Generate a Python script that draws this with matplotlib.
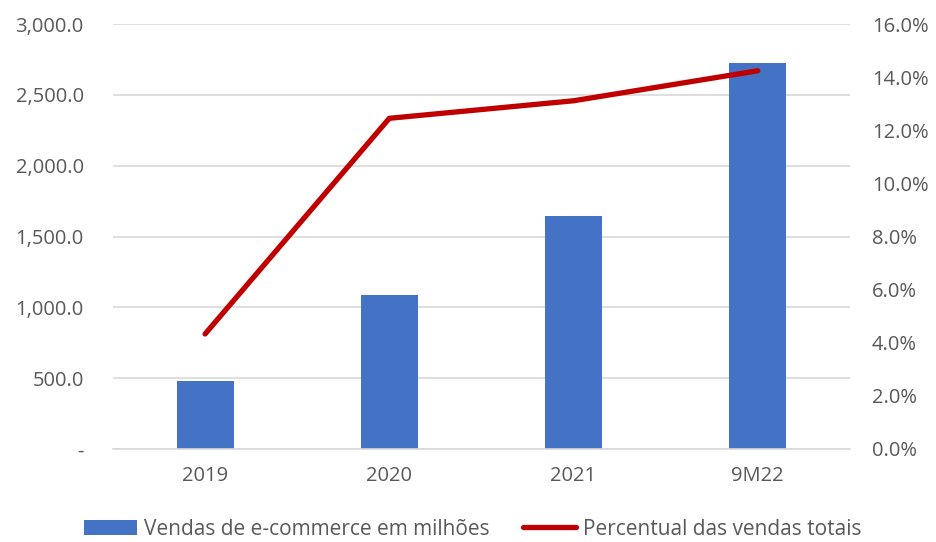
import matplotlib
matplotlib.use('Agg')
from matplotlib import pyplot as plt
from matplotlib.ticker import FuncFormatter
import numpy as np

# data
periods = ['2019', '2020', '2021', '9M22']
sales = [477, 1087, 1645, 2727]
share_pct = [4.33, 12.45, 13.11, 14.24]

plt.rcParams['font.family'] = ['Open Sans', 'DejaVu Sans']
text_color = '#595959'
grid_color = '#d9d9d9'

fig = plt.figure(figsize=(9.36, 5.42), dpi=100)
ax = fig.add_axes([0.1207, 0.1716, 0.7873, 0.7841])
ax2 = ax.twinx()

x = np.arange(len(periods))
ax.bar(x, sales, width=0.31, color='#4472c4', label='Vendas de e-commerce em milhões', zorder=2)
ax2.plot(x, share_pct, color='#c00000', lw=3.8, solid_capstyle='round',
         label='Percentual das vendas totais', zorder=3)

ax.set_xlim(-0.5, len(periods) - 0.5)
ax.set_ylim(0, 3000)
ax.set_yticks(np.arange(0, 3001, 500))
ax2.set_ylim(0, 16)
ax2.set_yticks(np.arange(0, 16.1, 2))

def left_fmt(v, pos):
    if v == 0:
        return '-'
    return f'{v:,.1f}'

ax.yaxis.set_major_formatter(FuncFormatter(left_fmt))
ax2.yaxis.set_major_formatter(FuncFormatter(lambda v, pos: f'{v:.1f}%'))

ax.set_xticks(x)
ax.set_xticklabels(periods)
ax.grid(axis='y', color=grid_color, lw=1.2, zorder=0)
ax.set_axisbelow(True)

for a in (ax, ax2):
    for s in a.spines.values():
        s.set_visible(False)
    a.tick_params(length=0, labelsize=14.5, colors=text_color)
ax.spines['bottom'].set_visible(True)
ax.spines['bottom'].set_color(grid_color)
ax.spines['bottom'].set_linewidth(1.2)
ax.tick_params(axis='y', pad=21)
ax.tick_params(axis='x', pad=12)
ax2.tick_params(axis='y', pad=16)

h1, l1 = ax.get_legend_handles_labels()
h2, l2 = ax2.get_legend_handles_labels()
leg = fig.legend(h1 + h2, l1 + l2, loc='lower center', ncol=2, frameon=False,
                 fontsize=15, bbox_to_anchor=(0.505, -0.03), columnspacing=1.6,
                 handlelength=2.55, handletextpad=0.33)
for t in leg.get_texts():
    t.set_color(text_color)

fig.savefig('out.png', dpi=100)
